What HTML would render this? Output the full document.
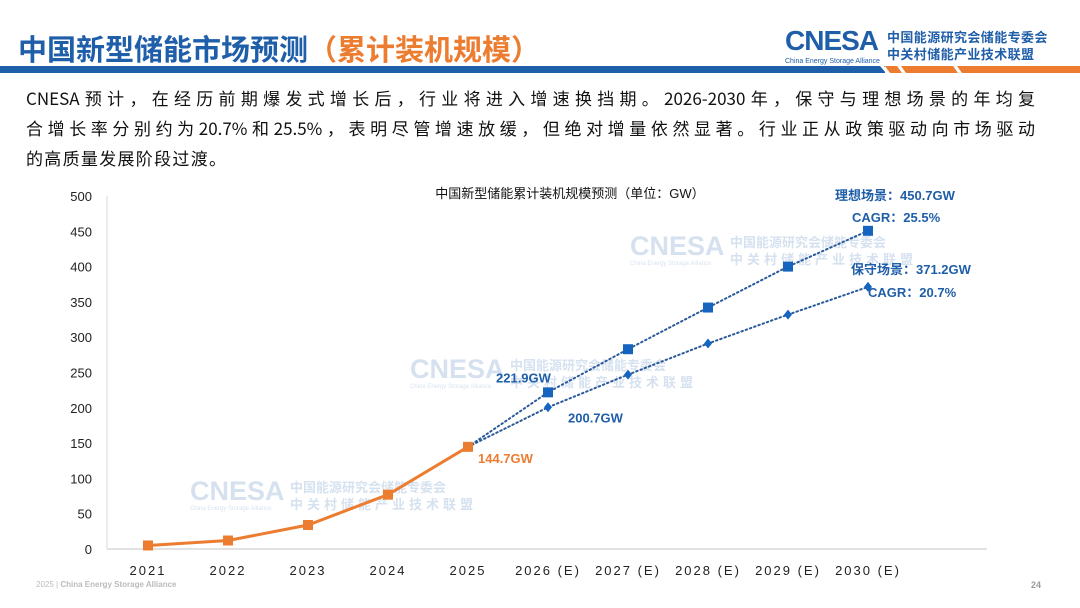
<!DOCTYPE html>
<html><head><meta charset="utf-8"><style>
body{margin:0;width:1080px;height:608px;background:#fff;overflow:hidden;font-family:"Liberation Sans","Noto Sans CJK SC",sans-serif;position:relative}
.a{position:absolute;white-space:nowrap}
.ln{width:1009px;text-align:justify;text-align-last:justify;height:30px;white-space:normal}
</style></head><body>
<div class="a" style="left:18px;top:27px;font-size:29px;font-weight:bold;color:#1f5ea8">中国新型储能市场预测<span style="color:#ec7c30">（累计装机规模）</span></div>
<div class="a" style="left:785px;top:25px;">
<span style="font-size:28px;font-weight:bold;color:#1f5ea8;letter-spacing:-1px">CNESA</span>
<div class="a" style="left:0;top:33px;font-size:7px;color:#1f5ea8">China Energy Storage Alliance</div>
<div class="a" style="left:102px;top:4px;font-size:13px;font-weight:bold;color:#1f5ea8;line-height:17px;letter-spacing:0.4px">中国能源研究会储能专委会<br>中关村储能产业技术联盟</div>
</div>
<svg class="a" style="left:0;top:0" width="1080" height="80">
<rect x="0" y="66" width="885" height="7" fill="#1f5ea8"/>
<polygon points="885,66 1080,66 1080,73 890,73" fill="#ec7c30"/>
<polygon points="880,66 884,66 890,73 886,73" fill="#fff"/>
<polygon points="897,66 901,66 906,73 902,73" fill="#fff"/>
<polygon points="953,66 957,66 962,73 958,73" fill="#fff"/>
</svg>
<div class="a" style="left:26px;top:83px;font-size:17px;line-height:30px;color:#111;white-space:normal;font-family:'Noto Sans CJK SC','Liberation Sans',sans-serif">
<div class="ln">CNESA预计，在经历前期爆发式增长后，行业将进入增速换挡期。2026-2030年，保守与理想场景的年均复</div>
<div class="ln">合增长率分别约为20.7%和25.5%，表明尽管增速放缓，但绝对增量依然显著。行业正从政策驱动向市场驱动</div>
<div style="letter-spacing:1.3px">的高质量发展阶段过渡。</div>
</div>
<svg id="chart" class="a" style="left:0;top:0" width="1080" height="608"></svg>
<div class="a" style="left:36px;top:580px;font-size:8px;color:#bbb">2025 | <b>China Energy Storage Alliance</b></div>
<div class="a" style="left:1031px;top:580px;font-size:9px;color:#999;font-weight:bold">24</div>
<script>
const categories=["2021","2022","2023","2024","2025","2026 (E)","2027 (E)","2028 (E)","2029 (E)","2030 (E)"];
const historical=[5,12,34,77,144.7];
const ideal=[144.7,221.9,283,342,400,450.7];
const conservative=[144.7,200.7,247,291,332,371.2];
const yTicks=[0,50,100,150,200,250,300,350,400,450,500];
const NS="http://www.w3.org/2000/svg";
const svg=document.getElementById('chart');
const X=i=>148+i*80, Y=v=>549-v*(353/500);
function mk(t,a,p){const e=document.createElementNS(NS,t);for(const k in a)e.setAttribute(k,a[k]);(p||svg).appendChild(e);return e;}
function txt(s,x,y,a){const e=mk('text',Object.assign({x:x,y:y},a));e.textContent=s;return e;}
[[190,500],[410,378],[630,255]].forEach(w=>{const g=mk('g',{opacity:0.18});


const t1=mk('text',{x:w[0],y:w[1],'font-size':27,'font-weight':'bold',fill:'#1f5ea8'},g);t1.textContent='CNESA';
const t2=mk('text',{x:w[0]+100,y:w[1]-8,'font-size':13,'font-weight':'bold',fill:'#1f5ea8'},g);t2.textContent='中国能源研究会储能专委会';
const t3=mk('text',{x:w[0]+100,y:w[1]+9,'font-size':13,'font-weight':'bold',fill:'#1f5ea8','letter-spacing':4},g);t3.textContent='中关村储能产业技术联盟';
const t4=mk('text',{x:w[0],y:w[1]+10,'font-size':6,fill:'#1f5ea8'},g);t4.textContent='China Energy Storage Alliance';});
const ax=mk('line',{x1:107,y1:196,x2:107,y2:549,stroke:'#d9d9d9','stroke-width':1});

const xa=mk('line',{x1:107,y1:549,x2:987,y2:549,stroke:'#d9d9d9','stroke-width':1.5});

yTicks.forEach(v=>{const t=txt(v,92,Y(v)+5,{'font-size':13,fill:'#222','text-anchor':'end'});

});
categories.forEach((c,i)=>{const t=txt(c,X(i),575,{'font-size':13,fill:'#222','text-anchor':'middle','letter-spacing':2});

});
const ct=txt('中国新型储能累计装机规模预测（单位：GW）',570,198,{'font-size':13,fill:'#111','text-anchor':'middle'});

function pts(arr,off){return arr.map((v,i)=>X(i+off)+','+Y(v)).join(' ');}
const lI=mk('polyline',{points:pts(ideal,4),fill:'none',stroke:'#2a5a9a','stroke-width':2,'stroke-dasharray':'1.5 3','stroke-linecap':'round'});

const lC=mk('polyline',{points:pts(conservative,4),fill:'none',stroke:'#2a5a9a','stroke-width':2,'stroke-dasharray':'1.5 3','stroke-linecap':'round'});

const lH=mk('polyline',{points:pts(historical,0),fill:'none',stroke:'#ec7c30','stroke-width':3});

historical.forEach((v,i)=>{const r=mk('rect',{x:X(i)-5,y:Y(v)-5,width:10,height:10,fill:'#ec7c30'});

});
ideal.slice(1).forEach((v,i)=>{const r=mk('rect',{x:X(i+5)-5,y:Y(v)-5,width:10,height:10,fill:'#1565c0'});

});
conservative.slice(1).forEach((v,i)=>{const x=X(i+5),y=Y(v);const p=mk('polygon',{points:`${x},${y-5} ${x+4},${y} ${x},${y+5} ${x-4},${y}`,fill:'#1565c0'});

});
const L=(s,x,y,c,n)=>{const t=txt(s,x,y,{'font-size':13,'font-weight':'bold',fill:c});};
L(historical[4].toFixed(1)+'GW',X(4)+10,Y(historical[4])+16,'#ec7c30','label-2025');
L(ideal[1].toFixed(1)+'GW',X(5)-52,Y(ideal[1])-10,'#1f5ea8','label-ideal-2026');
L(conservative[1].toFixed(1)+'GW',X(5)+20,Y(conservative[1])+15,'#1f5ea8','label-conservative-2026');
L('理想场景：'+ideal[5].toFixed(1)+'GW',835,200,'#1f5ea8','label-ideal-2030');
L('CAGR：25.5%',852,222,'#1f5ea8','cagr-ideal');
L('保守场景：'+conservative[5].toFixed(1)+'GW',851,274,'#1f5ea8','label-conservative-2030');
L('CAGR：20.7%',868,297,'#1f5ea8','cagr-conservative');
</script>
</body></html>
